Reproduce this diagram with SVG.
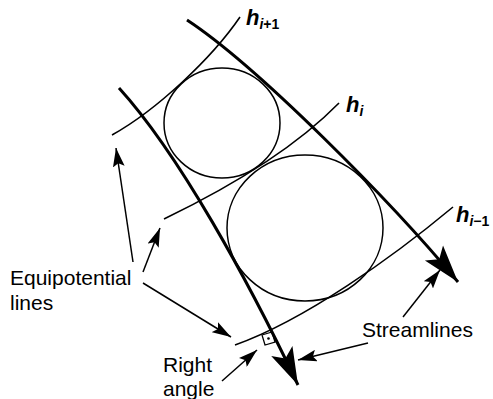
<svg xmlns="http://www.w3.org/2000/svg" width="493" height="399" viewBox="0 0 493 399">
<style>
.stream{fill:none;stroke:#000;stroke-width:3}
.equi{fill:none;stroke:#000;stroke-width:1.6}
.circ{fill:none;stroke:#000;stroke-width:1.5}
.lbl{fill:none;stroke:#000;stroke-width:1.5}
text{font-family:"Liberation Sans",Arial,sans-serif;fill:#000}
.t{font-size:21px}
.h{font-size:22px;font-style:italic;font-weight:bold}
.s{font-size:14px;font-weight:bold}
</style>
<defs>
<marker id="big" markerUnits="userSpaceOnUse" markerWidth="40" markerHeight="30" refX="32" refY="10" orient="auto" viewBox="0 0 34 20">
<path d="M32,10 L0,0 L7,10 L0,20 Z" fill="#000"/>
</marker>
<marker id="sm" markerUnits="userSpaceOnUse" markerWidth="20" markerHeight="12" refX="16" refY="5" orient="auto" viewBox="0 0 17 10">
<path d="M16,5 L0,0 L3,5 L0,10 Z" fill="#000"/>
</marker>
</defs>
<g id="circle-top"><ellipse class="circ" cx="222" cy="123" rx="58" ry="55"/></g>
<g id="circle-bottom"><ellipse class="circ" cx="305" cy="228" rx="78" ry="73"/></g>
<g id="connectors">
<path id="streamline-left" class="stream" d="M119,88 C179,154 248,280 298,385" marker-end="url(#big)"/>
<path id="streamline-right" class="stream" d="M187,20 C257,66 390,200 458,282" marker-end="url(#big)"/>
<path id="h-i+1" class="equi" d="M112,135 C157,110 212,58 240,17"/>
<path id="h-i" class="equi" d="M164,219 C224,190 294,149 339,103"/>
<path id="h-i-1" class="equi" d="M235,345 C305,320 393,257 453,207"/>
<path class="lbl" d="M133,262 L116,148" marker-end="url(#sm)"/>
<path class="lbl" d="M143,272 L160,228" marker-end="url(#sm)"/>
<path class="lbl" d="M143,283 L231,337" marker-end="url(#sm)"/>
<path class="lbl" d="M222,381 L257,350" marker-end="url(#sm)"/>
<path class="lbl" d="M403,317 L440,270" marker-end="url(#sm)"/>
<path class="lbl" d="M368,343 L298,360" marker-end="url(#sm)"/>
</g>
<g id="right-angle">
<path d="M262,335 L272,332 L275,342 L265,345 Z" fill="none" stroke="#000" stroke-width="1.3"/>
<circle cx="268.5" cy="338.5" r="1.3" fill="#000"/>
</g>
<g id="labels">
<text class="t" x="10" y="285">Equipotential</text>
<text class="t" x="10" y="310">lines</text>
<text class="t" x="163" y="372">Right</text>
<text class="t" x="163" y="396">angle</text>
<text class="t" x="362" y="337">Streamlines</text>
<text class="h" x="246" y="25">h<tspan class="s" dy="4">i</tspan><tspan class="s" font-style="normal">+1</tspan></text>
<text class="h" x="346" y="112">h<tspan class="s" dy="4">i</tspan></text>
<text class="h" x="456" y="222">h<tspan class="s" dy="4">i</tspan><tspan class="s" font-style="normal">−1</tspan></text>
</g>
</svg>
